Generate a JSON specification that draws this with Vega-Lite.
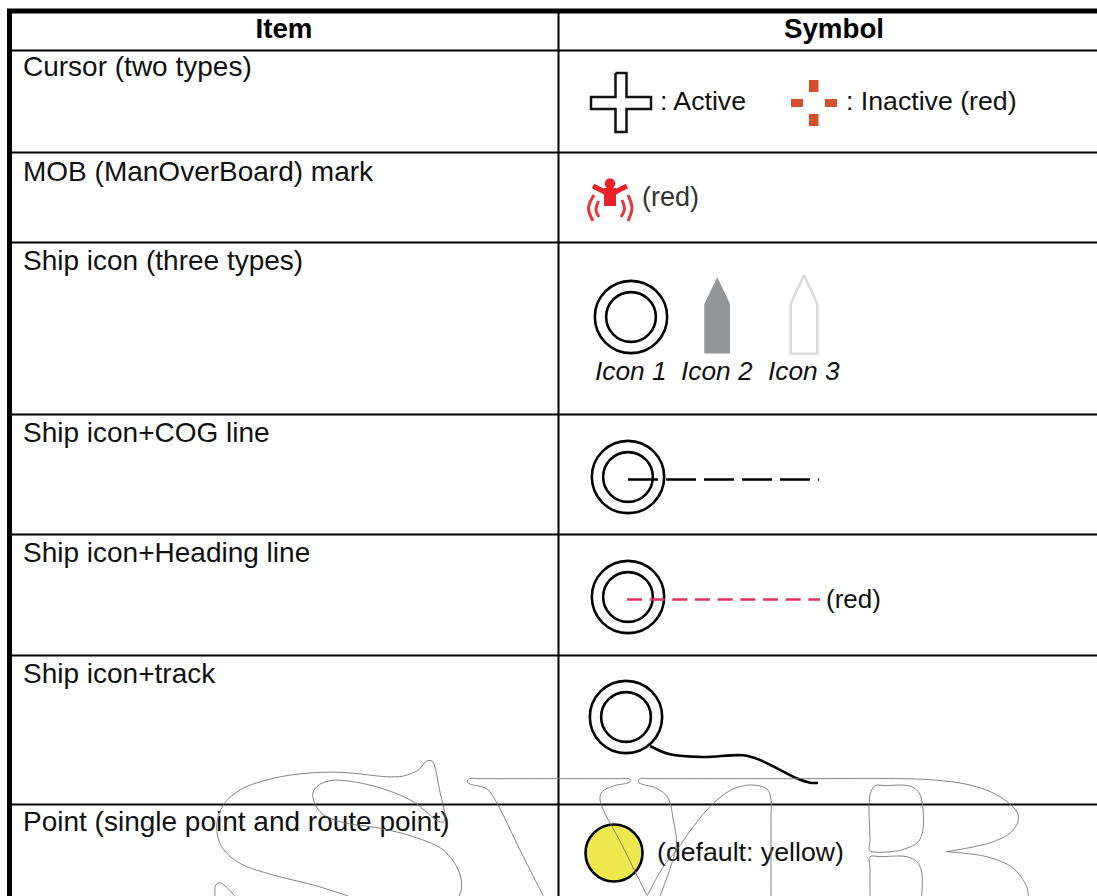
{"$schema":"https://vega.github.io/schema/vega-lite/v6.json","width":1097,"height":896,"padding":0,"autosize":"none","background":"white","config":{"view":{"stroke":null}},
"datasets":{
"thin":[{"x":558.5,"y":50,"x2":558.5,"y2":896},{"x":10,"y":50.5,"x2":1097,"y2":50.5},{"x":10,"y":152.5,"x2":1097,"y2":152.5},{"x":10,"y":242.5,"x2":1097,"y2":242.5},{"x":10,"y":414.5,"x2":1097,"y2":414.5},{"x":10,"y":534.5,"x2":1097,"y2":534.5},{"x":10,"y":655.5,"x2":1097,"y2":655.5},{"x":10,"y":804.5,"x2":1097,"y2":804.5},{"x":558.5,"y":13,"x2":558.5,"y2":50}],
"thick":[{"x":7,"y":11,"x2":1097,"y2":11},{"x":9.5,"y":9,"x2":9.5,"y2":896}],
"red":[{"x":809,"y":80,"x2":818.5,"y2":92},{"x":809,"y":114,"x2":818.5,"y2":126},{"x":791,"y":99,"x2":803,"y2":107},{"x":825,"y":99,"x2":837,"y2":107}],
"col1":[{"label":"Cursor (two types)","x":23,"y":76},{"label":"MOB (ManOverBoard) mark","x":23,"y":181},{"label":"Ship icon (three types)","x":23,"y":270},{"label":"Ship icon+COG line","x":23,"y":442},{"label":"Ship icon+Heading line","x":23,"y":562},{"label":"Ship icon+track","x":23,"y":683},{"label":"Point (single point and route point)","x":23,"y":831}],
"col2":[{"label":": Active","x":660,"y":110},{"label":": Inactive (red)","x":846,"y":110},{"label":"(default: yellow)","x":657,"y":861}],
"hred":[{"label":"(red)","x":826,"y":608}],
"head":[{"label":"Item","x":284,"y":38},{"label":"Symbol","x":834,"y":38}],
"ital":[{"label":"Icon 1","x":595,"y":380},{"label":"Icon 2","x":681,"y":380},{"label":"Icon 3","x":768,"y":380}],
"grey":[{"label":"(red)","x":642,"y":206}],
"rings":[{"x":631,"y":317},{"x":628,"y":477},{"x":628,"y":597},{"x":626,"y":717}],
"cross":[{"x":615.5,"y":73,"i":1},{"x":626.5,"y":73,"i":2},{"x":626.5,"y":97,"i":3},{"x":651,"y":97,"i":4},{"x":651,"y":109,"i":5},{"x":626.5,"y":109,"i":6},{"x":626.5,"y":132,"i":7},{"x":615.5,"y":132,"i":8},{"x":615.5,"y":109,"i":9},{"x":591,"y":109,"i":10},{"x":591,"y":97,"i":11},{"x":615.5,"y":97,"i":12},{"x":615.5,"y":73,"i":13}],
"icon2":[{"x":704.3,"y":304,"y2":353.5},{"x":717.3,"y":277.3,"y2":353.5},{"x":730,"y":304,"y2":353.5}],
"icon3":[{"x":804,"y":275,"i":1},{"x":817.3,"y":304,"i":2},{"x":817.3,"y":353.7,"i":3},{"x":790.7,"y":353.7,"i":4},{"x":790.7,"y":304,"i":5},{"x":804,"y":275,"i":6}],
"cog":[{"x":628,"y":479.5,"i":1},{"x":819,"y":479.5,"i":2}],
"hdg":[{"x":627,"y":599.5,"i":1},{"x":820,"y":599.5,"i":2}],
"track":[{"x":650,"y":746,"i":1},{"x":670,"y":754.3,"i":2},{"x":703.3,"y":757,"i":3},{"x":743.3,"y":755.3,"i":4},{"x":760,"y":760,"i":5},{"x":796.7,"y":778.3,"i":6},{"x":810,"y":782.7,"i":7},{"x":818,"y":783,"i":8}],
"yellow":[{"x":614,"y":853}],
"mobhead":[{"x":610,"y":183.5}],
"mobbody":[{"x":610,"y":188,"i":1},{"x":610,"y":206,"i":2}],
"mobarms":[{"p":"a","x":593,"y":186,"i":1},{"p":"a","x":603,"y":191,"i":2},{"p":"a","x":608,"y":194,"i":3},{"p":"b","x":627,"y":186,"i":1},{"p":"b","x":617,"y":191,"i":2},{"p":"b","x":612,"y":194,"i":3}],
"mobarcs":[{"p":"a","x":594,"y":195,"i":1},{"p":"a","x":588.5,"y":208,"i":2},{"p":"a","x":593,"y":221,"i":3},{"p":"b","x":598.5,"y":201,"i":1},{"p":"b","x":596,"y":210,"i":2},{"p":"b","x":599,"y":217,"i":3},{"p":"c","x":628,"y":195,"i":1},{"p":"c","x":632,"y":208,"i":2},{"p":"c","x":628,"y":221,"i":3},{"p":"d","x":622,"y":200,"i":1},{"p":"d","x":624.5,"y":209,"i":2},{"p":"d","x":621,"y":217,"i":3}],
"wm":[
{"p":"S1","i":1,"x":348.3,"y":896},{"p":"S1","i":2,"x":313.3,"y":885},{"p":"S1","i":3,"x":273.3,"y":875},{"p":"S1","i":4,"x":240,"y":863.3},{"p":"S1","i":5,"x":221.7,"y":846.7},{"p":"S1","i":6,"x":216.7,"y":826.7},{"p":"S1","i":7,"x":223.3,"y":805},{"p":"S1","i":8,"x":240,"y":790},{"p":"S1","i":9,"x":273.3,"y":778.3},{"p":"S1","i":10,"x":313.3,"y":772.7},{"p":"S1","i":11,"x":346.7,"y":772.7},{"p":"S1","i":12,"x":386.7,"y":776.7},{"p":"S1","i":13,"x":403.3,"y":776},{"p":"S1","i":14,"x":418.3,"y":770},{"p":"S1","i":15,"x":426.7,"y":761},{"p":"S1","i":16,"x":432,"y":761},{"p":"S1","i":17,"x":434.3,"y":765},{"p":"S1","i":18,"x":440,"y":792},{"p":"S1","i":19,"x":445,"y":815},{"p":"S1","i":20,"x":444,"y":821.5},{"p":"S1","i":21,"x":439,"y":821.5},{"p":"S1","i":22,"x":413.3,"y":801.7},{"p":"S1","i":23,"x":386.7,"y":790},{"p":"S1","i":24,"x":353.3,"y":781.7},{"p":"S1","i":25,"x":330,"y":780.7},{"p":"S1","i":26,"x":316.7,"y":786.7},{"p":"S1","i":27,"x":312.7,"y":795},{"p":"S1","i":28,"x":320,"y":811.7},{"p":"S1","i":29,"x":340,"y":821.7},{"p":"S1","i":30,"x":380,"y":828.3},{"p":"S1","i":31,"x":413.3,"y":836.7},{"p":"S1","i":32,"x":443.3,"y":850},{"p":"S1","i":33,"x":458.3,"y":870},{"p":"S1","i":34,"x":461.7,"y":886.7},{"p":"S1","i":35,"x":459.3,"y":896},
{"p":"S2","i":1,"x":215,"y":896},{"p":"S2","i":2,"x":215.7,"y":885},{"p":"S2","i":3,"x":220,"y":882.7},{"p":"S2","i":4,"x":235,"y":896},
{"p":"V1","i":1,"x":543.3,"y":896},{"p":"V1","i":2,"x":520,"y":850},{"p":"V1","i":3,"x":497,"y":803.3},{"p":"V1","i":4,"x":487,"y":789},{"p":"V1","i":5,"x":470,"y":784},{"p":"V1","i":6,"x":467.3,"y":781.7},{"p":"V1","i":7,"x":469.3,"y":778.7},{"p":"V1","i":8,"x":480,"y":778.7},{"p":"V1","i":9,"x":550,"y":778.7},{"p":"V1","i":10,"x":620,"y":778.7},{"p":"V1","i":11,"x":629,"y":778.7},{"p":"V1","i":12,"x":630.7,"y":780.5},{"p":"V1","i":13,"x":628.3,"y":782.7},{"p":"V1","i":14,"x":613.3,"y":786},{"p":"V1","i":15,"x":602,"y":792},{"p":"V1","i":16,"x":600,"y":800},{"p":"V1","i":17,"x":623,"y":847},{"p":"V1","i":18,"x":646.7,"y":895},
{"p":"V2","i":1,"x":660,"y":896},{"p":"V2","i":2,"x":670.7,"y":866.7},{"p":"V2","i":3,"x":676.5,"y":843},{"p":"V2","i":4,"x":673.3,"y":820},{"p":"V2","i":5,"x":668.3,"y":798.3},{"p":"V2","i":6,"x":656.7,"y":788.3},{"p":"V2","i":7,"x":641.7,"y":784},{"p":"V2","i":8,"x":638.3,"y":781.7},{"p":"V2","i":9,"x":640,"y":778.7},{"p":"V2","i":10,"x":650,"y":778.7},{"p":"V2","i":11,"x":780,"y":778.7},{"p":"V2","i":12,"x":900,"y":778.7},{"p":"V2","i":13,"x":933.3,"y":780},{"p":"V2","i":14,"x":970,"y":785},{"p":"V2","i":15,"x":1000,"y":796.7},{"p":"V2","i":16,"x":1018.3,"y":815},{"p":"V2","i":17,"x":1013.3,"y":830},{"p":"V2","i":18,"x":993.3,"y":841.7},{"p":"V2","i":19,"x":946.7,"y":851.7},
{"p":"V3","i":1,"x":946.7,"y":851.7},{"p":"V3","i":2,"x":986.7,"y":856.7},{"p":"V3","i":3,"x":1013.3,"y":868.3},{"p":"V3","i":4,"x":1026.7,"y":886.7},{"p":"V3","i":5,"x":1028.3,"y":896},
{"p":"V4","i":1,"x":771,"y":896},{"p":"V4","i":2,"x":771,"y":815},{"p":"V4","i":3,"x":771,"y":800},{"p":"V4","i":4,"x":767,"y":789},{"p":"V4","i":5,"x":751.7,"y":785},{"p":"V4","i":6,"x":733,"y":789},{"p":"V4","i":7,"x":713.3,"y":803.3},{"p":"V4","i":8,"x":693.3,"y":826.7},{"p":"V4","i":9,"x":676.7,"y":850},{"p":"V4","i":10,"x":663.3,"y":866.7},{"p":"V4","i":11,"x":647,"y":896},
{"p":"B1","i":1,"x":900,"y":850.5},{"p":"B1","i":2,"x":870,"y":850.7},{"p":"B1","i":3,"x":870,"y":840},{"p":"B1","i":4,"x":870,"y":795},{"p":"B1","i":5,"x":875,"y":785.7},{"p":"B1","i":6,"x":885,"y":785.7},{"p":"B1","i":7,"x":908.3,"y":785.7},{"p":"B1","i":8,"x":918.3,"y":791.7},{"p":"B1","i":9,"x":922.3,"y":803.3},{"p":"B1","i":10,"x":922.3,"y":833.3},{"p":"B1","i":11,"x":916.7,"y":843.3},{"p":"B1","i":12,"x":900,"y":850.5},
{"p":"B2","i":1,"x":870,"y":896},{"p":"B2","i":2,"x":870,"y":870},{"p":"B2","i":3,"x":870,"y":856.7},{"p":"B2","i":4,"x":880,"y":856.7},{"p":"B2","i":5,"x":906.7,"y":856.7},{"p":"B2","i":6,"x":916.7,"y":861.7},{"p":"B2","i":7,"x":921.7,"y":871.7},{"p":"B2","i":8,"x":921.7,"y":896}
]},
"encoding":{},
"layer":[
{"data":{"name":"thin"},"mark":{"type":"rule","color":"black","strokeWidth":2},"encoding":{"x":{"field":"x","type":"quantitative","scale":{"domain":[0,1097],"nice":false,"zero":false},"axis":null},"y":{"field":"y","type":"quantitative","scale":{"domain":[0,896],"reverse":true,"nice":false,"zero":false},"axis":null},"x2":{"field":"x2"},"y2":{"field":"y2"}}},
{"data":{"name":"thick"},"mark":{"type":"rule","color":"black","strokeWidth":5},"encoding":{"x":{"field":"x","type":"quantitative","axis":null},"y":{"field":"y","type":"quantitative","axis":null},"x2":{"field":"x2"},"y2":{"field":"y2"}}},
{"data":{"name":"col1"},"mark":{"type":"text","font":"Liberation Sans","fontSize":28,"align":"left","baseline":"alphabetic","color":"#111111"},"encoding":{"x":{"field":"x","type":"quantitative","axis":null},"y":{"field":"y","type":"quantitative","axis":null},"text":{"field":"label"}}},
{"data":{"name":"col2"},"mark":{"type":"text","font":"Liberation Sans","fontSize":26.7,"align":"left","baseline":"alphabetic","color":"#111111"},"encoding":{"x":{"field":"x","type":"quantitative","axis":null},"y":{"field":"y","type":"quantitative","axis":null},"text":{"field":"label"}}},
{"data":{"name":"hred"},"mark":{"type":"text","font":"Liberation Sans","fontSize":26,"align":"left","baseline":"alphabetic","color":"#111111"},"encoding":{"x":{"field":"x","type":"quantitative","axis":null},"y":{"field":"y","type":"quantitative","axis":null},"text":{"field":"label"}}},
{"data":{"name":"head"},"mark":{"type":"text","font":"Liberation Sans","fontSize":27.7,"fontWeight":"bold","align":"center","baseline":"alphabetic","color":"black"},"encoding":{"x":{"field":"x","type":"quantitative","axis":null},"y":{"field":"y","type":"quantitative","axis":null},"text":{"field":"label"}}},
{"data":{"name":"ital"},"mark":{"type":"text","font":"Liberation Sans","fontSize":26.3,"fontStyle":"italic","align":"left","baseline":"alphabetic","color":"#111111"},"encoding":{"x":{"field":"x","type":"quantitative","axis":null},"y":{"field":"y","type":"quantitative","axis":null},"text":{"field":"label"}}},
{"data":{"name":"grey"},"mark":{"type":"text","font":"Liberation Sans","fontSize":27,"align":"left","baseline":"alphabetic","color":"#333333"},"encoding":{"x":{"field":"x","type":"quantitative","axis":null},"y":{"field":"y","type":"quantitative","axis":null},"text":{"field":"label"}}},
{"data":{"name":"red"},"mark":{"type":"rect","color":"#d5502a"},"encoding":{"x":{"field":"x","type":"quantitative","axis":null},"y":{"field":"y","type":"quantitative","axis":null},"x2":{"field":"x2"},"y2":{"field":"y2"}}},
{"data":{"name":"cross"},"mark":{"type":"line","color":"#111111","strokeWidth":2.5},"encoding":{"x":{"field":"x","type":"quantitative","axis":null},"y":{"field":"y","type":"quantitative","axis":null},"order":{"field":"i"}}},
{"data":{"name":"icon2"},"mark":{"type":"area","color":"#939598","opacity":1},"encoding":{"x":{"field":"x","type":"quantitative","axis":null},"y":{"field":"y","type":"quantitative","axis":null},"y2":{"field":"y2"}}},
{"data":{"name":"icon3"},"mark":{"type":"line","color":"#d8dadb","strokeWidth":2.5},"encoding":{"x":{"field":"x","type":"quantitative","axis":null},"y":{"field":"y","type":"quantitative","axis":null},"order":{"field":"i"}}},
{"data":{"name":"rings"},"mark":{"type":"point","shape":"circle","filled":false,"opacity":1,"color":"black","strokeWidth":2.6,"size":5227},"encoding":{"x":{"field":"x","type":"quantitative","axis":null},"y":{"field":"y","type":"quantitative","axis":null}}},
{"data":{"name":"rings"},"mark":{"type":"point","shape":"circle","filled":false,"opacity":1,"color":"black","strokeWidth":2.6,"size":2470},"encoding":{"x":{"field":"x","type":"quantitative","axis":null},"y":{"field":"y","type":"quantitative","axis":null}}},
{"data":{"name":"cog"},"mark":{"type":"line","color":"black","strokeWidth":2.6,"strokeDash":[30,8]},"encoding":{"x":{"field":"x","type":"quantitative","axis":null},"y":{"field":"y","type":"quantitative","axis":null},"order":{"field":"i"}}},
{"data":{"name":"hdg"},"mark":{"type":"line","color":"#e0335f","strokeWidth":2.6,"strokeDash":[15,7.67]},"encoding":{"x":{"field":"x","type":"quantitative","axis":null},"y":{"field":"y","type":"quantitative","axis":null},"order":{"field":"i"}}},
{"data":{"name":"track"},"mark":{"type":"line","color":"black","strokeWidth":2.6,"interpolate":"catmull-rom"},"encoding":{"x":{"field":"x","type":"quantitative","axis":null},"y":{"field":"y","type":"quantitative","axis":null},"order":{"field":"i"}}},
{"data":{"name":"yellow"},"mark":{"type":"point","shape":"circle","filled":true,"opacity":1,"fill":"#ece84e","stroke":"black","strokeWidth":2.6,"size":3250},"encoding":{"x":{"field":"x","type":"quantitative","axis":null},"y":{"field":"y","type":"quantitative","axis":null}}},
{"data":{"name":"mobhead"},"mark":{"type":"point","shape":"circle","filled":true,"opacity":1,"color":"#ec2027","size":110},"encoding":{"x":{"field":"x","type":"quantitative","axis":null},"y":{"field":"y","type":"quantitative","axis":null}}},
{"data":{"name":"mobbody"},"mark":{"type":"line","color":"#ec2027","strokeWidth":12},"encoding":{"x":{"field":"x","type":"quantitative","axis":null},"y":{"field":"y","type":"quantitative","axis":null},"order":{"field":"i"}}},
{"data":{"name":"mobarms"},"mark":{"type":"line","color":"#ec2027","strokeWidth":5},"encoding":{"x":{"field":"x","type":"quantitative","axis":null},"y":{"field":"y","type":"quantitative","axis":null},"detail":{"field":"p"},"order":{"field":"i"}}},
{"data":{"name":"mobarcs"},"mark":{"type":"line","color":"#ee3338","strokeWidth":3,"interpolate":"catmull-rom"},"encoding":{"x":{"field":"x","type":"quantitative","axis":null},"y":{"field":"y","type":"quantitative","axis":null},"detail":{"field":"p"},"order":{"field":"i"}}},
{"data":{"name":"wm"},"mark":{"type":"line","color":"#757575","strokeWidth":0.9,"interpolate":"catmull-rom"},"encoding":{"x":{"field":"x","type":"quantitative","axis":null},"y":{"field":"y","type":"quantitative","axis":null},"detail":{"field":"p"},"order":{"field":"i"}}}
]}
